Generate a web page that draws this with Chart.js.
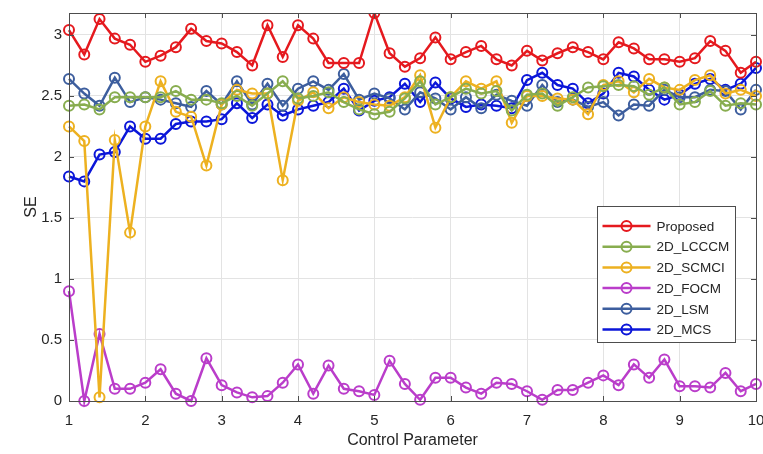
<!DOCTYPE html>
<html>
<head>
<meta charset="utf-8">
<script src="https://cdn.jsdelivr.net/npm/chart.js@4.4.1/dist/chart.umd.min.js"></script>
<style>
  html, body { margin: 0; padding: 0; background: #ffffff; }
  #wrap { width: 763px; height: 454px; position: relative; }
</style>
</head>
<body>
<div id="wrap"><canvas id="c" width="763" height="454"></canvas></div>
<script>
// Control parameter sweep 1.0 .. 10.0 in steps of 0.2
const controlParam = [1.0,1.2,1.4,1.6,1.8,2.0,2.2,2.4,2.6,2.8,3.0,3.2,3.4,3.6,3.8,4.0,4.2,4.4,4.6,4.8,5.0,5.2,5.4,5.6,5.8,6.0,6.2,6.4,6.6,6.8,7.0,7.2,7.4,7.6,7.8,8.0,8.2,8.4,8.6,8.8,9.0,9.2,9.4,9.6,9.8,10.0];

const seriesNames = ['Proposed','2D_LCCCM','2D_SCMCI','2D_FOCM','2D_LSM','2D_MCS'];

const proposed = [3.04,2.84,3.13,2.97,2.92,2.78,2.83,2.90,3.05,2.95,2.93,2.86,2.75,3.08,2.82,3.08,2.97,2.77,2.77,2.77,3.18,2.85,2.74,2.81,2.98,2.80,2.86,2.91,2.80,2.75,2.87,2.79,2.85,2.90,2.86,2.80,2.94,2.89,2.80,2.80,2.78,2.81,2.95,2.87,2.69,2.78];
const lcccm    = [2.42,2.43,2.39,2.49,2.49,2.49,2.49,2.54,2.47,2.47,2.44,2.50,2.42,2.52,2.62,2.48,2.50,2.53,2.45,2.39,2.35,2.37,2.48,2.62,2.43,2.49,2.56,2.52,2.54,2.38,2.51,2.52,2.42,2.49,2.57,2.58,2.59,2.58,2.51,2.57,2.43,2.45,2.54,2.42,2.44,2.43];
const scmci    = [2.25,2.13,0.03,2.14,1.38,2.25,2.62,2.37,2.33,1.93,2.43,2.55,2.52,2.52,1.81,2.46,2.53,2.40,2.49,2.45,2.43,2.42,2.49,2.67,2.24,2.49,2.62,2.56,2.62,2.28,2.50,2.50,2.48,2.47,2.35,2.59,2.62,2.53,2.64,2.57,2.55,2.63,2.67,2.52,2.55,2.50];
const focm     = [0.90,0.00,0.55,0.10,0.10,0.15,0.26,0.06,0.00,0.35,0.13,0.07,0.03,0.04,0.15,0.30,0.06,0.29,0.10,0.08,0.05,0.33,0.14,0.01,0.19,0.19,0.11,0.06,0.15,0.14,0.08,0.01,0.09,0.09,0.15,0.21,0.13,0.30,0.19,0.34,0.12,0.12,0.11,0.23,0.08,0.14];
const lsm      = [2.64,2.52,2.42,2.65,2.45,2.49,2.47,2.44,2.41,2.54,2.43,2.62,2.43,2.60,2.42,2.56,2.62,2.55,2.68,2.47,2.52,2.48,2.39,2.53,2.48,2.39,2.49,2.40,2.51,2.46,2.42,2.59,2.45,2.47,2.41,2.45,2.34,2.43,2.42,2.55,2.49,2.49,2.55,2.54,2.39,2.55];
const mcs      = [1.84,1.80,2.02,2.04,2.25,2.15,2.15,2.27,2.29,2.29,2.31,2.44,2.32,2.43,2.34,2.39,2.42,2.45,2.56,2.38,2.46,2.49,2.60,2.45,2.61,2.48,2.41,2.43,2.42,2.40,2.63,2.69,2.59,2.56,2.44,2.52,2.69,2.66,2.55,2.47,2.51,2.60,2.64,2.55,2.60,2.73];

const xTicks = [1,2,3,4,5,6,7,8,9,10];
const yTicks = [0,0.5,1,1.5,2,2.5,3];

const seriesColors = ['#E5191E','#88AD4F','#EDB120','#BA3DCA','#3D5E9E','#0B16D9'];
const seriesValues = [proposed, lcccm, scmci, focm, lsm, mcs];

const FONT = '"Liberation Sans", Arial, Helvetica, sans-serif';
const TEXT = '#262626';

const datasets = seriesValues.map((vals, k) => ({
  label: seriesNames[k],
  data: vals.map((v, i) => ({ x: controlParam[i], y: v })),
  borderColor: seriesColors[k],
  backgroundColor: seriesColors[k],
  pointBackgroundColor: 'rgba(255,255,255,0)',
  pointBorderColor: seriesColors[k],
  pointRadius: 5,
  pointBorderWidth: 2,
  borderWidth: 2.5,
  tension: 0,
  clip: { left: 10, right: 10, top: 0, bottom: 10 }
}));

// Box frame, inward tick marks and an in-plot legend
const framePlugin = {
  id: 'frame',
  afterDraw(chart) {
    const { ctx, chartArea: a, scales } = chart;
    ctx.save();
    ctx.strokeStyle = '#4d4d4d';
    ctx.lineWidth = 1;
    ctx.strokeRect(Math.round(a.left) + 0.5, Math.round(a.top) + 0.5,
                   Math.round(a.right - a.left), Math.round(a.bottom - a.top));
    const tl = 5;
    ctx.beginPath();
    xTicks.forEach(t => {
      const px = Math.round(scales.x.getPixelForValue(t)) + 0.5;
      ctx.moveTo(px, a.bottom); ctx.lineTo(px, a.bottom - tl);
      ctx.moveTo(px, a.top); ctx.lineTo(px, a.top + tl);
    });
    yTicks.forEach(t => {
      const py = Math.round(scales.y.getPixelForValue(t)) + 0.5;
      ctx.moveTo(a.left, py); ctx.lineTo(a.left + tl, py);
      ctx.moveTo(a.right, py); ctx.lineTo(a.right - tl, py);
    });
    ctx.stroke();

    // legend
    const bx = 597.5, by = 206.5, bw = 138, bh = 136;
    ctx.fillStyle = '#ffffff';
    ctx.fillRect(bx, by, bw, bh);
    ctx.strokeStyle = '#4d4d4d';
    ctx.strokeRect(bx, by, bw, bh);
    ctx.font = '13.5px ' + FONT;
    ctx.textBaseline = 'middle';
    chart.data.datasets.forEach((ds, k) => {
      const yy = by + 19.5 + k * 20.7;
      ctx.strokeStyle = ds.borderColor;
      ctx.lineWidth = 2.5;
      ctx.beginPath(); ctx.moveTo(bx + 5, yy); ctx.lineTo(bx + 53, yy); ctx.stroke();
      ctx.lineWidth = 2;
      ctx.beginPath(); ctx.arc(bx + 29, yy, 5, 0, Math.PI * 2); ctx.stroke();
      ctx.fillStyle = TEXT;
      ctx.fillText(ds.label, bx + 59, yy + 1);
    });
    ctx.restore();
  }
};

new Chart(document.getElementById('c'), {
  type: 'line',
  data: { datasets },
  options: {
    responsive: false,
    animation: false,
    layout: { padding: { top: 13, right: 7, left: 0, bottom: 0 } },
    plugins: { legend: { display: false }, tooltip: { enabled: false } },
    scales: {
      x: {
        type: 'linear',
        min: 1, max: 10,
        afterFit: s => { s.height = 53; s.paddingLeft = 0; s.paddingRight = 0; },
        afterBuildTicks: s => { s.ticks = xTicks.map(v => ({ value: v })); },
        grid: { color: '#e3e3e3', lineWidth: 1, drawTicks: false },
        border: { display: false },
        ticks: { color: TEXT, font: { family: FONT, size: 15 }, padding: 11, maxRotation: 0,
                 callback: v => String(v) },
        title: { display: true, text: 'Control Parameter', color: TEXT, font: { family: FONT, size: 16 }, padding: { top: 0 } }
      },
      y: {
        type: 'linear',
        min: 0, max: 3.18,
        afterFit: s => { s.width = 69; s.paddingTop = 0; s.paddingBottom = 0; },
        afterBuildTicks: s => { s.ticks = yTicks.map(v => ({ value: v })); },
        grid: { color: '#e3e3e3', lineWidth: 1, drawTicks: false },
        border: { display: false },
        ticks: { color: TEXT, font: { family: FONT, size: 15 }, padding: 7,
                 callback: v => String(v) },
        title: { display: true, text: 'SE', color: TEXT, font: { family: FONT, size: 16 }, padding: { top: 22, bottom: 0 } }
      }
    }
  },
  plugins: [framePlugin]
});
</script>
</body>
</html>
